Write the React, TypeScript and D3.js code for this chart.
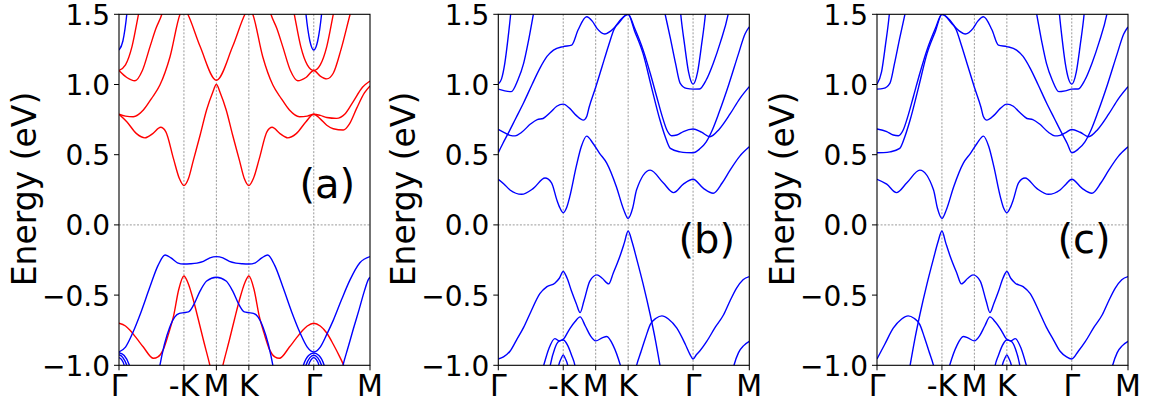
import React from 'react';
import * as d3 from 'd3';

type Pt = [number, number];

// ---- axes ----
const kTicks = [0, 1, 1.5, 2, 3, 3.866];
const kLabels = ['Γ', '-K', 'M', 'K', 'Γ', 'M'];
const gridK = [1, 1.5, 2, 3];
const eTicks = [-1.0, -0.5, 0.0, 0.5, 1.0, 1.5];
const eLabels = ['−1.0', '−0.5', '0.0', '0.5', '1.0', '1.5'];
const panelTags = ['(a)', '(b)', '(c)'];

// ---- panel (a) ----
const aR1: Pt[] = [[0,0.788],[0.12,0.735],[0.27,0.65],[0.4,0.62],[0.52,0.65],[0.642,0.695],[0.72,0.665],[0.84,0.47],[0.93,0.33],[1.0,0.28],[1.07,0.33],[1.145,0.46],[1.25,0.64],[1.35,0.82],[1.44,0.94],[1.5,1.0],[1.56,0.94],[1.65,0.82],[1.75,0.64],[1.855,0.46],[1.93,0.33],[2.0,0.28],[2.07,0.33],[2.16,0.47],[2.28,0.665],[2.358,0.695],[2.48,0.65],[2.6,0.62],[2.73,0.65],[2.88,0.735],[3.0,0.788],[3.1,0.755],[3.2,0.71],[3.3,0.685],[3.455,0.676],[3.55,0.72],[3.66,0.83],[3.78,0.94],[3.866,0.99]];
const aR2: Pt[] = [[0,0.788],[0.1,0.775],[0.22,0.77],[0.375,0.818],[0.5,0.9],[0.63,0.996],[0.786,1.198],[0.94,1.5],[1.0,1.55],[1.06,1.5],[1.25,1.27],[1.5,1.03],[1.75,1.27],[1.94,1.5],[2.0,1.55],[2.06,1.5],[2.214,1.198],[2.37,0.996],[2.5,0.9],[2.625,0.818],[2.78,0.77],[2.9,0.775],[3.0,0.788],[3.1,0.78],[3.2,0.765],[3.35,0.759],[3.48,0.79],[3.61,0.88],[3.75,0.98],[3.866,1.025]];
const aR3L: Pt[] = [[0,1.1],[0.12,1.05],[0.246,1.027],[0.36,1.1],[0.478,1.27],[0.57,1.4],[0.66,1.5],[0.72,1.6]];
const aR3R: Pt[] = [[2.28,1.6],[2.34,1.5],[2.43,1.4],[2.522,1.27],[2.64,1.1],[2.754,1.027],[2.88,1.05],[3.0,1.1],[3.1,1.06],[3.2,1.04],[3.3,1.08],[3.42,1.25],[3.56,1.5],[3.62,1.6]];
const aR4L: Pt[] = [[0,1.1],[0.1,1.14],[0.2,1.27],[0.3,1.5],[0.35,1.62]];
const aR4R: Pt[] = [[2.65,1.62],[2.7,1.5],[2.8,1.27],[2.9,1.14],[3.0,1.1],[3.1,1.14],[3.2,1.27],[3.3,1.5],[3.35,1.62]];
const aRv: Pt[] = [[0,-0.70],[0.1,-0.72],[0.17,-0.75],[0.275,-0.81],[0.375,-0.87],[0.53,-0.95],[0.6,-0.94],[0.68,-0.89],[0.76,-0.78],[0.84,-0.65],[0.92,-0.46],[1.0,-0.364],[1.06,-0.41],[1.145,-0.535],[1.22,-0.67],[1.3,-0.82],[1.4,-1.0],[1.45,-1.1]];
const aRv2: Pt[] = [[1.55,-1.1],[1.6,-1.0],[1.7,-0.82],[1.78,-0.67],[1.855,-0.535],[1.94,-0.41],[2.0,-0.364],[2.08,-0.46],[2.16,-0.65],[2.24,-0.78],[2.32,-0.89],[2.4,-0.94],[2.47,-0.95],[2.625,-0.87],[2.725,-0.81],[2.83,-0.75],[2.9,-0.72],[3.0,-0.70],[3.1,-0.72],[3.2,-0.77],[3.3,-0.85],[3.4,-0.94],[3.46,-1.0],[3.5,-1.05]];
const aBc1: Pt[] = [[0,1.246],[0.06,1.31],[0.12,1.5],[0.15,1.65]];
const aBc2: Pt[] = [[2.85,1.65],[2.88,1.5],[2.94,1.31],[3.0,1.246],[3.06,1.31],[3.12,1.5],[3.15,1.65]];
const aB1: Pt[] = [[0,-0.905],[0.1,-0.87],[0.21,-0.77],[0.34,-0.62],[0.47,-0.45],[0.6,-0.29],[0.71,-0.214],[0.8,-0.235],[0.9,-0.27],[1.0,-0.279],[1.1,-0.277],[1.2,-0.272],[1.3,-0.26],[1.4,-0.235],[1.5,-0.226],[1.6,-0.235],[1.7,-0.26],[1.8,-0.272],[1.9,-0.277],[2.0,-0.279],[2.1,-0.27],[2.2,-0.235],[2.29,-0.214],[2.4,-0.29],[2.53,-0.45],[2.66,-0.62],[2.79,-0.77],[2.9,-0.87],[3.0,-0.905],[3.1,-0.87],[3.2,-0.78],[3.3,-0.68],[3.43,-0.53],[3.56,-0.39],[3.71,-0.27],[3.866,-0.226]];
const aB2: Pt[] = [[0.6,-1.08],[0.63,-1.0],[0.7,-0.85],[0.78,-0.73],[0.86,-0.655],[0.93,-0.63],[1.0,-0.625],[1.07,-0.62],[1.15,-0.57],[1.25,-0.47],[1.35,-0.4],[1.5,-0.373],[1.65,-0.4],[1.75,-0.47],[1.85,-0.57],[1.93,-0.62],[2.0,-0.625],[2.07,-0.63],[2.14,-0.655],[2.22,-0.73],[2.3,-0.85],[2.37,-1.0],[2.4,-1.08]];
const aB3: Pt[] = [[3.42,-1.06],[3.45,-1.0],[3.53,-0.87],[3.61,-0.74],[3.7,-0.6],[3.78,-0.47],[3.84,-0.39],[3.866,-0.373]];
const aArcL1: Pt[] = [[0,-0.91],[0.08,-0.93],[0.16,-1.0],[0.19,-1.05]];
const aArcL2: Pt[] = [[0,-0.925],[0.06,-0.945],[0.12,-1.0],[0.15,-1.05]];
const aArcL3: Pt[] = [[0,-0.945],[0.04,-0.96],[0.08,-1.0],[0.1,-1.05]];
const aArcR1: Pt[] = [[2.81,-1.05],[2.84,-1.0],[2.92,-0.93],[3.0,-0.912],[3.08,-0.93],[3.16,-1.0],[3.19,-1.05]];
const aArcR2: Pt[] = [[2.85,-1.05],[2.88,-1.0],[2.94,-0.945],[3.0,-0.928],[3.06,-0.945],[3.12,-1.0],[3.15,-1.05]];
const aArcR3: Pt[] = [[2.9,-1.05],[2.92,-1.0],[2.96,-0.96],[3.0,-0.945],[3.04,-0.96],[3.08,-1.0],[3.1,-1.05]];

// ---- panel (b) ----
const bC1: Pt[] = [[0,0.325],[0.09,0.29],[0.18,0.249],[0.36,0.218],[0.54,0.26],[0.72,0.334],[0.82,0.30],[0.9,0.18],[0.95,0.12],[1.0,0.087],[1.05,0.12],[1.1,0.2],[1.2,0.415],[1.28,0.56],[1.36,0.632],[1.46,0.58],[1.56,0.51],[1.67,0.44],[1.82,0.27],[1.93,0.11],[2.0,0.046],[2.07,0.12],[2.13,0.25],[2.34,0.39],[2.54,0.30],[2.7,0.23],[2.85,0.29],[3.0,0.325],[3.16,0.26],[3.31,0.225],[3.45,0.3],[3.57,0.39],[3.72,0.49],[3.866,0.556]];
const bC2: Pt[] = [[0,0.514],[0.07,0.58],[0.15,0.65],[0.27,0.76],[0.39,0.87],[0.52,1.0],[0.64,1.115],[0.75,1.2],[0.85,1.245],[1.0,1.27],[1.13,1.28],[1.23,1.39],[1.36,1.483],[1.45,1.45],[1.52,1.40],[1.64,1.36],[1.73,1.38],[1.82,1.42],[2.0,1.5],[2.1,1.38],[2.23,1.22],[2.36,0.98],[2.49,0.747],[2.57,0.63],[2.65,0.545],[2.8,0.52],[2.9,0.515],[3.0,0.514],[3.1,0.54],[3.2,0.59],[3.3,0.68],[3.4,0.8],[3.55,1.0],[3.7,1.22],[3.8,1.36],[3.866,1.41]];
const bC3: Pt[] = [[0,0.68],[0.1,0.655],[0.18,0.638],[0.26,0.634],[0.36,0.66],[0.5,0.72],[0.6,0.75],[0.69,0.758],[0.8,0.8],[0.9,0.845],[1.0,0.86],[1.1,0.83],[1.2,0.78],[1.31,0.746],[1.36,0.77],[1.4,0.84],[1.5,0.98],[1.6,1.13],[1.7,1.28],[1.78,1.39],[1.88,1.46],[2.0,1.5],[2.1,1.4],[2.23,1.246],[2.34,1.08],[2.44,0.913],[2.52,0.78],[2.6,0.672],[2.67,0.635],[2.75,0.64],[2.85,0.665],[3.0,0.683],[3.13,0.66],[3.26,0.628],[3.4,0.68],[3.57,0.79],[3.72,0.9],[3.866,0.985]];
const bC4L: Pt[] = [[0,0.967],[0.1,0.955],[0.2,0.949],[0.3,1.03],[0.39,1.15],[0.46,1.3],[0.54,1.5],[0.58,1.6]];
const bC4R: Pt[] = [[2.5,1.65],[2.57,1.5],[2.65,1.33],[2.73,1.15],[2.8,1.01],[2.9,0.972],[3.0,0.967],[3.1,0.968],[3.2,1.03],[3.31,1.15],[3.42,1.3],[3.54,1.5],[3.58,1.6]];
const bC5L: Pt[] = [[0,1.003],[0.05,1.04],[0.1,1.15],[0.15,1.33],[0.19,1.5],[0.21,1.6]];
const bC5R: Pt[] = [[2.79,1.6],[2.81,1.5],[2.87,1.28],[2.93,1.09],[3.0,1.003],[3.07,1.09],[3.13,1.28],[3.19,1.5],[3.21,1.6]];
const bU: Pt[] = [[0,-0.955],[0.08,-0.94],[0.18,-0.90],[0.28,-0.82],[0.39,-0.73],[0.5,-0.62],[0.64,-0.49],[0.75,-0.44],[0.87,-0.415],[0.94,-0.38],[1.0,-0.332],[1.06,-0.38],[1.13,-0.475],[1.2,-0.56],[1.26,-0.625],[1.32,-0.54],[1.41,-0.40],[1.52,-0.356],[1.6,-0.38],[1.7,-0.42],[1.77,-0.344],[1.88,-0.214],[1.94,-0.13],[2.0,-0.043],[2.06,-0.12],[2.13,-0.24],[2.23,-0.42],[2.34,-0.64],[2.42,-0.82],[2.49,-1.0],[2.52,-1.08]];
const bL: Pt[] = [[0.67,-1.05],[0.7,-1.0],[0.78,-0.88],[0.87,-0.81],[0.94,-0.826],[1.0,-0.815],[1.1,-0.74],[1.18,-0.69],[1.26,-0.655],[1.34,-0.72],[1.42,-0.79],[1.5,-0.826],[1.6,-0.805],[1.67,-0.795],[1.77,-0.86],[1.88,-1.0],[1.91,-1.05]];
const bArc2: Pt[] = [[0.78,-1.05],[0.8,-1.0],[0.87,-0.88],[0.93,-0.83],[1.0,-0.82],[1.07,-0.86],[1.13,-0.93],[1.18,-1.0],[1.2,-1.05]];
const bArc3: Pt[] = [[0.91,-1.05],[0.93,-1.0],[0.97,-0.95],[1.0,-0.926],[1.03,-0.95],[1.07,-1.0],[1.09,-1.05]];
const bV3: Pt[] = [[2.1,-1.06],[2.13,-1.0],[2.2,-0.9],[2.27,-0.8],[2.34,-0.71],[2.43,-0.665],[2.52,-0.648],[2.62,-0.67],[2.75,-0.736],[2.88,-0.85],[2.95,-0.92],[3.0,-0.955],[3.05,-0.925],[3.1,-0.9],[3.21,-0.83],[3.34,-0.73],[3.47,-0.64],[3.57,-0.54],[3.67,-0.45],[3.77,-0.39],[3.866,-0.368]];
const bV4: Pt[] = [[3.6,-1.06],[3.63,-1.0],[3.7,-0.91],[3.78,-0.86],[3.866,-0.83]];

// ---- panel (c) ----
const cC1: Pt[] = [[0,0.325],[0.15,0.29],[0.3,0.23],[0.46,0.30],[0.66,0.39],[0.87,0.25],[0.93,0.12],[1.0,0.046],[1.07,0.11],[1.18,0.27],[1.33,0.44],[1.44,0.51],[1.54,0.58],[1.64,0.632],[1.72,0.56],[1.8,0.415],[1.9,0.2],[1.95,0.12],[2.0,0.087],[2.05,0.12],[2.1,0.18],[2.18,0.30],[2.28,0.334],[2.46,0.26],[2.64,0.218],[2.82,0.249],[2.91,0.29],[3.0,0.325],[3.16,0.26],[3.31,0.225],[3.45,0.3],[3.57,0.39],[3.72,0.49],[3.866,0.556]];
const cC2: Pt[] = [[0,0.514],[0.1,0.515],[0.2,0.52],[0.35,0.545],[0.43,0.63],[0.51,0.747],[0.64,0.98],[0.77,1.22],[0.9,1.38],[1.0,1.5],[1.18,1.42],[1.27,1.38],[1.36,1.36],[1.48,1.40],[1.55,1.45],[1.64,1.483],[1.77,1.39],[1.87,1.28],[2.0,1.27],[2.15,1.245],[2.25,1.2],[2.36,1.115],[2.48,1.0],[2.61,0.87],[2.73,0.76],[2.85,0.65],[2.93,0.58],[3.0,0.514],[3.1,0.54],[3.2,0.59],[3.3,0.68],[3.4,0.8],[3.55,1.0],[3.7,1.22],[3.8,1.36],[3.866,1.41]];
const cC3: Pt[] = [[0,0.683],[0.15,0.665],[0.25,0.64],[0.33,0.635],[0.4,0.672],[0.48,0.78],[0.56,0.913],[0.66,1.08],[0.77,1.246],[0.9,1.4],[1.0,1.5],[1.12,1.46],[1.22,1.39],[1.3,1.28],[1.4,1.13],[1.5,0.98],[1.6,0.84],[1.64,0.77],[1.69,0.746],[1.8,0.78],[1.9,0.83],[2.0,0.86],[2.1,0.845],[2.2,0.8],[2.31,0.758],[2.4,0.75],[2.5,0.72],[2.64,0.66],[2.74,0.634],[2.82,0.638],[2.9,0.655],[3.0,0.68],[3.13,0.66],[3.26,0.628],[3.4,0.68],[3.57,0.79],[3.72,0.9],[3.866,0.985]];
const cC4L: Pt[] = [[0,0.967],[0.1,0.972],[0.2,1.01],[0.27,1.15],[0.35,1.33],[0.43,1.5],[0.5,1.65]];
const cC4R: Pt[] = [[2.42,1.6],[2.46,1.5],[2.54,1.3],[2.61,1.15],[2.7,1.03],[2.8,0.949],[2.9,0.955],[3.0,0.967],[3.1,0.968],[3.2,1.03],[3.31,1.15],[3.42,1.3],[3.54,1.5],[3.58,1.6]];
const cC5L: Pt[] = [[0,1.003],[0.07,1.09],[0.13,1.28],[0.19,1.5],[0.21,1.6]];
const cC5R: Pt[] = [[2.79,1.6],[2.81,1.5],[2.85,1.33],[2.9,1.15],[2.95,1.04],[3.0,1.003],[3.07,1.09],[3.13,1.28],[3.19,1.5],[3.21,1.6]];
const cU: Pt[] = [[0.48,-1.08],[0.51,-1.0],[0.58,-0.82],[0.66,-0.64],[0.77,-0.42],[0.87,-0.24],[0.94,-0.12],[1.0,-0.043],[1.06,-0.13],[1.12,-0.214],[1.23,-0.344],[1.3,-0.42],[1.4,-0.38],[1.48,-0.356],[1.59,-0.40],[1.68,-0.54],[1.74,-0.625],[1.8,-0.56],[1.87,-0.475],[1.94,-0.38],[2.0,-0.332],[2.06,-0.38],[2.13,-0.415],[2.25,-0.44],[2.36,-0.49],[2.5,-0.62],[2.61,-0.73],[2.72,-0.82],[2.82,-0.90],[2.92,-0.94],[3.0,-0.955],[3.1,-0.9],[3.21,-0.83],[3.34,-0.73],[3.47,-0.64],[3.57,-0.54],[3.67,-0.45],[3.77,-0.39],[3.866,-0.368]];
const cL: Pt[] = [[1.09,-1.05],[1.12,-1.0],[1.23,-0.86],[1.33,-0.795],[1.4,-0.805],[1.5,-0.826],[1.58,-0.79],[1.66,-0.72],[1.74,-0.655],[1.82,-0.69],[1.9,-0.74],[2.0,-0.815],[2.06,-0.826],[2.13,-0.81],[2.22,-0.88],[2.3,-1.0],[2.33,-1.05]];
const cArc2: Pt[] = [[1.8,-1.05],[1.82,-1.0],[1.87,-0.93],[1.93,-0.86],[2.0,-0.82],[2.07,-0.83],[2.13,-0.88],[2.2,-1.0],[2.22,-1.05]];
const cArc3: Pt[] = [[1.91,-1.05],[1.93,-1.0],[1.97,-0.95],[2.0,-0.926],[2.03,-0.95],[2.07,-1.0],[2.09,-1.05]];
const cV3: Pt[] = [[0,-0.955],[0.12,-0.85],[0.25,-0.736],[0.38,-0.67],[0.48,-0.648],[0.57,-0.665],[0.66,-0.71],[0.73,-0.8],[0.8,-0.9],[0.87,-1.0],[0.9,-1.06]];
const cV4: Pt[] = [[3.6,-1.06],[3.63,-1.0],[3.7,-0.91],[3.78,-0.86],[3.866,-0.83]];

const RED = '#ff0000';
const BLUE = '#0000ff';

type Band = { pts: Pt[]; color: string };
const panelBands: Band[][] = [
  [
    ...[aR1, aR2, aR3L, aR3R, aR4L, aR4R, aRv, aRv2].map((p) => ({ pts: p, color: RED })),
    ...[aBc1, aBc2, aB1, aB2, aB3, aArcL1, aArcL2, aArcL3, aArcR1, aArcR2, aArcR3].map((p) => ({ pts: p, color: BLUE })),
  ],
  [bC1, bC2, bC3, bC4L, bC4R, bC5L, bC5R, bU, bL, bArc2, bArc3, bV3, bV4].map((p) => ({ pts: p, color: BLUE })),
  [cC1, cC2, cC3, cC4L, cC4R, cC5L, cC5R, cU, cL, cArc2, cArc3, cV3, cV4].map((p) => ({ pts: p, color: BLUE })),
];

const W = 1151;
const H = 410;
const panelLeft = [119, 498.3, 877];
const top = 14.3;
const pw = 251;
const ph = 351;
const tagPos: Pt[] = [[299.5, 198], [678.5, 253], [1057.5, 253]];
const FONT = 'DejaVu Sans';

export default function App() {
  const x = d3.scaleLinear().domain([0, 3.866]).range([0, pw]);
  const y = d3.scaleLinear().domain([-1, 1.5]).range([ph, 0]);
  const line = d3
    .line<Pt>()
    .x((d) => x(d[0]))
    .y((d) => y(d[1]))
    .curve(d3.curveMonotoneX);

  return (
    <svg
      width={W}
      height={H}
      style={{ position: 'absolute', left: 0, top: 0, background: '#fff' }}
      fontFamily={FONT}
    >
      <defs>
        <clipPath id="plotclip">
          <rect x={0} y={0} width={pw} height={ph} />
        </clipPath>
      </defs>
      {panelBands.map((bands, pi) => {
        const left = panelLeft[pi];
        return (
          <g key={pi}>
            <g transform={`translate(${left},${top})`}>
              {gridK.map((k) => (
                <line key={'g' + k} x1={x(k)} x2={x(k)} y1={0} y2={ph} stroke="#808080" strokeWidth={0.8} strokeDasharray="2,1.6" />
              ))}
              <line x1={0} x2={pw} y1={y(0)} y2={y(0)} stroke="#808080" strokeWidth={0.8} strokeDasharray="2,1.6" />
              <g clipPath="url(#plotclip)">
                {bands.map((b, bi) => (
                  <path key={bi} d={line(b.pts) || ''} fill="none" stroke={b.color} strokeWidth={1.4} />
                ))}
              </g>
              <rect x={0} y={0} width={pw} height={ph} fill="none" stroke="#000" strokeWidth={1.1} />
              {eTicks.map((e, i) => (
                <g key={'e' + i}>
                  <line x1={-5} x2={0} y1={y(e)} y2={y(e)} stroke="#000" strokeWidth={1} />
                  <text x={-9} y={y(e) + 10.5} textAnchor="end" fontSize={28} fill="#000">
                    {eLabels[i]}
                  </text>
                </g>
              ))}
              {kTicks.map((k, i) => (
                <g key={'k' + i}>
                  <line x1={x(k)} x2={x(k)} y1={ph} y2={ph + 5} stroke="#000" strokeWidth={1} />
                  <text x={x(k)} y={ph + 31} textAnchor="middle" fontSize={30} fill="#000">
                    {kLabels[i]}
                  </text>
                </g>
              ))}
            </g>
            <text
              transform={`translate(${left - 83},189) rotate(-90)`}
              textAnchor="middle"
              fontSize={33}
              fill="#000"
            >
              Energy (eV)
            </text>
            <text x={tagPos[pi][0]} y={tagPos[pi][1]} fontSize={40} fill="#000">
              {panelTags[pi]}
            </text>
          </g>
        );
      })}
    </svg>
  );
}
